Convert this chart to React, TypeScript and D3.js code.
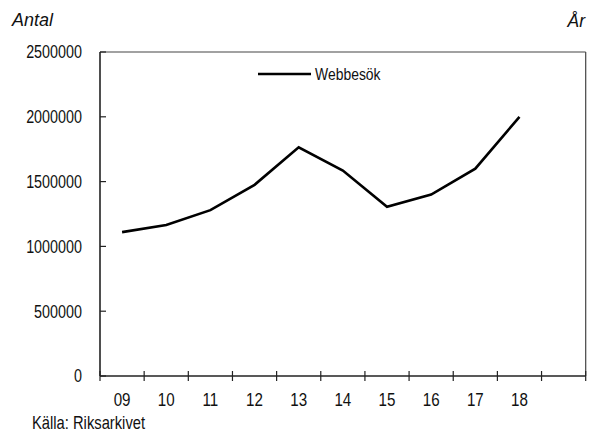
import React from "react";
import * as d3 from "d3";

const categories = ["09", "10", "11", "12", "13", "14", "15", "16", "17", "18"];
const webbesok = [1110000, 1165000, 1280000, 1475000, 1765000, 1585000, 1305000, 1400000, 1600000, 2000000];
const yTicks = [0, 500000, 1000000, 1500000, 2000000, 2500000];
const seriesName = "Webbesök";
const bandCount = 11;

const W = 595;
const H = 433;
const m = { left: 100, right: 585.7, top: 52, bottom: 376 };
const sans = "'Liberation Sans', Arial, sans-serif";
const NARROW = 0.82;

function NText(props: { x: number; y: number; size: number; anchor?: string; dy?: string; children: React.ReactNode }) {
  const { x, y, size, anchor, dy, children } = props;
  return (
    <g transform={`translate(${x},${y}) scale(${NARROW},1)`}>
      <text x={0} y={0} dy={dy} textAnchor={anchor || "start"} fontFamily={sans} fontSize={size} fill="#111">
        {children}
      </text>
    </g>
  );
}

export default function App() {
  const x = d3.scaleBand<number>().domain(d3.range(bandCount)).range([m.left, m.right]).paddingInner(0).paddingOuter(0);
  const y = d3.scaleLinear().domain([0, 2500000]).range([m.bottom, m.top]);
  const line = d3
    .line<number>()
    .x((_, i) => (x(i) as number) + x.bandwidth() / 2)
    .y((v) => y(v));
  const boundaries = d3.range(bandCount + 1).map((i) => m.left + i * x.step());

  return (
    <svg width={W} height={H} style={{ position: "fixed", left: 0, top: 0, background: "#fff" }}>
      <rect x={0} y={0} width={W} height={H} fill="#fff" />
      <text x={12} y={26} fontFamily={sans} fontStyle="italic" fontSize={18} fill="#111">Antal</text>
      <text x={585} y={27} textAnchor="end" fontFamily={sans} fontStyle="italic" fontSize={17.5} fill="#111">År</text>
      {/* frame top/right */}
      <line x1={m.left} x2={m.right} y1={m.top} y2={m.top} stroke="#444" strokeWidth={1.2} />
      <line x1={m.right} x2={m.right} y1={m.top} y2={m.bottom} stroke="#444" strokeWidth={1.2} />
      {/* y axis */}
      <line x1={m.left} x2={m.left} y1={m.top} y2={m.bottom} stroke="#222" strokeWidth={1.6} />
      {yTicks.map((t) => (
        <g key={t}>
          <line x1={m.left} x2={m.left + 6} y1={y(t)} y2={y(t)} stroke="#222" strokeWidth={1.2} />
          <NText x={82} y={y(t)} dy="0.36em" anchor="end" size={17.5}>
            {t}
          </NText>
        </g>
      ))}
      {/* x axis */}
      <line x1={m.left} x2={m.right} y1={m.bottom} y2={m.bottom} stroke="#222" strokeWidth={1.6} />
      {boundaries.map((b, i) => (
        <line key={i} x1={b} x2={b} y1={m.bottom - 5} y2={m.bottom + 5} stroke="#222" strokeWidth={1.2} />
      ))}
      {categories.map((c, i) => (
        <NText key={c} x={(x(i) as number) + x.bandwidth() / 2} y={406} anchor="middle" size={18.5}>
          {c}
        </NText>
      ))}
      <path d={line(webbesok) || ""} fill="none" stroke="#000" strokeWidth={2.6} strokeLinejoin="miter" />
      {/* legend */}
      <line x1={258} x2={311} y1={74} y2={74} stroke="#000" strokeWidth={2.6} />
      <NText x={315} y={80} size={17}>{seriesName}</NText>
      <NText x={32} y={429} size={18}>Källa: Riksarkivet</NText>
    </svg>
  );
}
